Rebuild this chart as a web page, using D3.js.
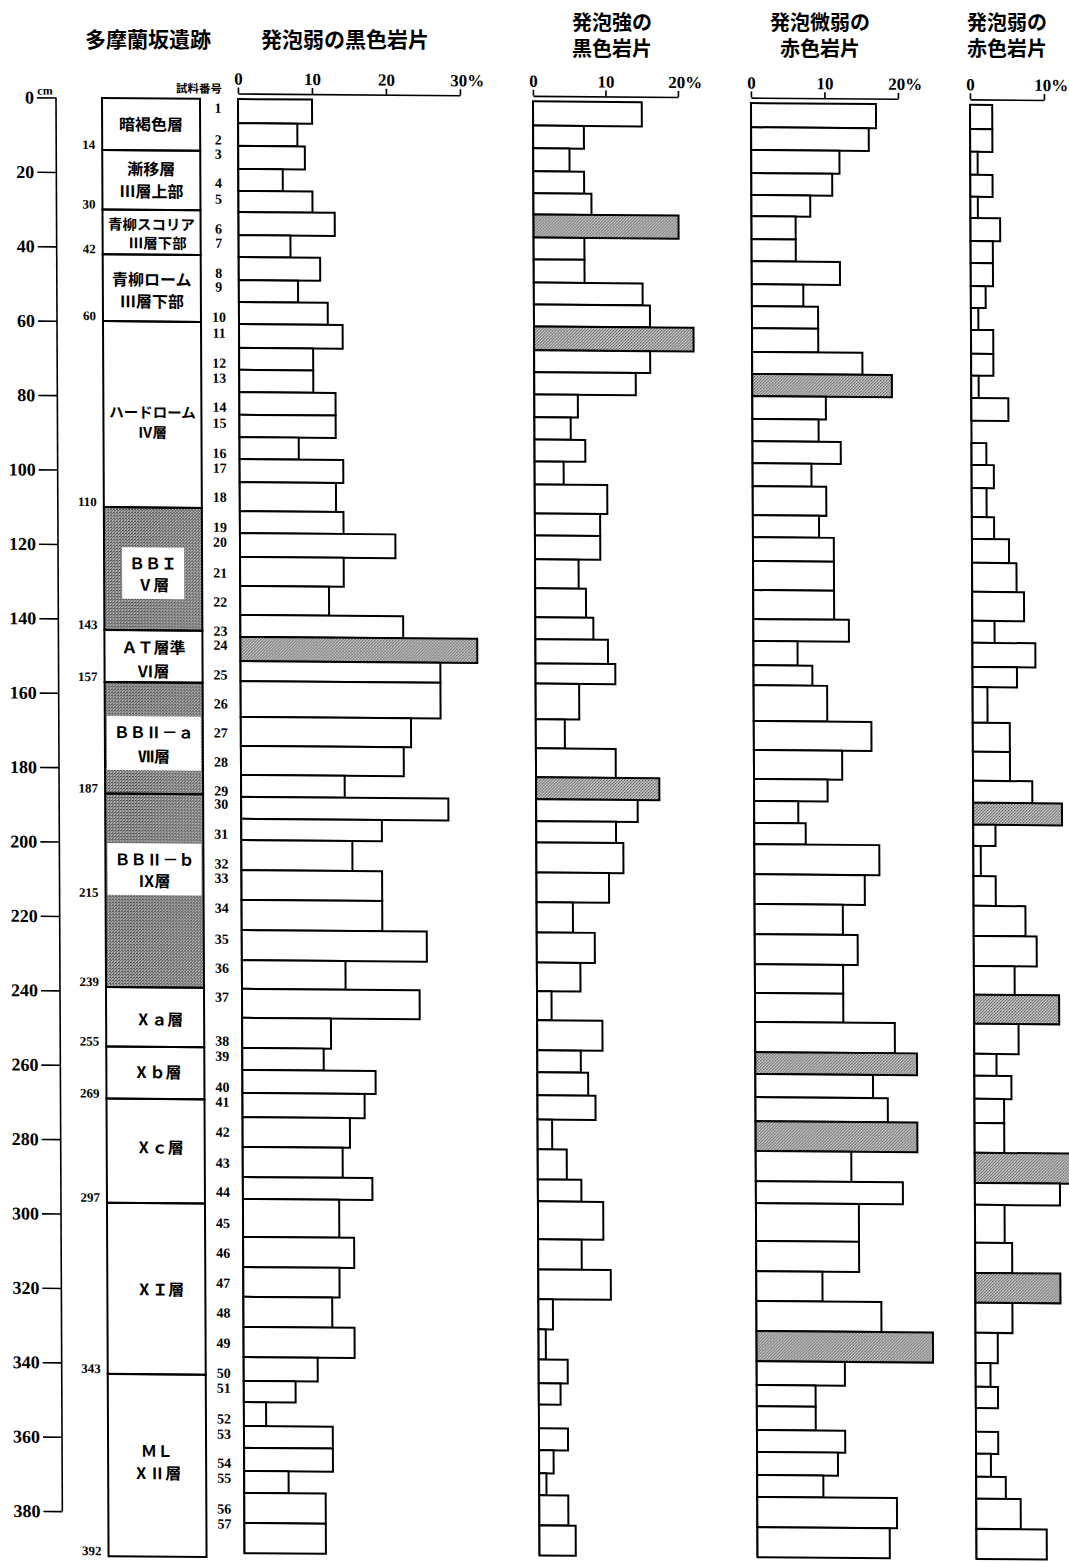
<!DOCTYPE html>
<html>
<head>
<meta charset="utf-8">
<script src="https://cdn.jsdelivr.net/npm/d3@7"></script>
<style>
  body { margin: 0; background: #fff; }
  svg { display: block; }
  .jp { font-family: "Noto Sans CJK JP", "Noto Sans", sans-serif; font-weight: 700; fill: #000; }
  .num { font-family: "Liberation Serif", "DejaVu Serif", serif; font-weight: 700; fill: #000; }
  .axis path, .axis line { stroke: #000; stroke-width: 1.6; }
  .axis text { font-family: "Liberation Serif", "DejaVu Serif", serif; font-weight: 700; font-size: 17px; fill: #000; }
  .depth text { font-size: 18px; }
</style>
</head>
<body>
<script>
// ---- data -------------------------------------------------------------
var sampleNo = [1, 2, 3, 4, 5, 6, 7, 8, 9, 10, 11, 12, 13, 14, 15, 16, 17, 18, 19, 20,
  21, 22, 23, 24, 25, 26, 27, 28, 29, 30, 31, 32, 33, 34, 35, 36, 37, 38, 39, 40,
  41, 42, 43, 44, 45, 46, 47, 48, 49, 50, 51, 52, 53, 54, 55, 56, 57];

// depth (cm) where each sample's number is written
var sampleDepth = [2.4, 11, 14.8, 22.6, 26.9, 34.9, 38.7, 46.8, 50.5, 58.6,
  62.9, 71, 75, 82.8, 87.1, 95.2, 99.2, 107, 115.1, 119.1,
  127.4, 135.2, 143, 146.8, 154.8, 162.6, 170.4, 178.2, 186, 189.5,
  197.6, 205.6, 209.4, 217.5, 225.8, 233.6, 241.4, 253.2, 257.3, 265.6,
  269.6, 277.7, 286, 293.8, 302.2, 310.2, 318.3, 326.3, 334.4, 342.5,
  346.5, 354.8, 358.9, 366.7, 370.7, 379, 383];

// depth (cm) of the bar edges: bar i runs from barEdges[i] to barEdges[i+1]
var barEdges = [0, 6.5, 12.6, 18.8, 24.7, 30.4, 36.6, 42.5, 48.7, 54.6,
  60.5, 66.9, 72.8, 78.8, 84.9, 90.9, 96.8, 103, 110.8, 116.7,
  123.1, 130.9, 138.7, 144.6, 151.1, 156.5, 166.1, 173.9, 181.7, 187.6,
  193.5, 199.2, 207.3, 215.3, 223.4, 231.5, 239.2, 247, 255.1, 261,
  267.2, 273.7, 281.7, 289.8, 295.7, 305.9, 314, 322, 330.1, 338.2,
  344.6, 350.3, 356.7, 362.6, 368.8, 374.7, 382.8, 390.9];

// percentages
var weakBlack = [10, 8, 9, 6, 10, 13, 7, 11, 8, 12,
  14, 10, 10, 13, 13, 8, 14, 13, 14, 21,
  14, 12, 22, 32, 27, 27, 23, 22, 14, 28,
  19, 15, 19, 19, 25, 14, 24, 12, 11, 18,
  16.5, 14.5, 13.5, 17.5, 13, 15, 13, 12, 15, 10,
  7, 3, 12, 12, 6, 11, 11];
var strongBlack = [15, 7, 5, 7, 8, 20, 7, 7, 15, 16,
  22, 16, 14, 6, 5, 7, 4, 10, 9, 9,
  6, 7, 8, 10, 11, 6, 4, 11, 17, 14,
  11, 12, 10, 5, 8, 6, 2, 9, 6, 7,
  8, 2, 4, 6, 9, 6, 10, 2, 1, 4,
  3, 0, 4, 2, 1, 4, 5];
var faintRed = [17, 16, 12, 11, 8, 6, 6, 12, 7, 9,
  9, 15, 19, 10, 9, 12, 8, 10, 9, 11,
  11, 11, 13, 6, 8, 10, 16, 12, 10, 6,
  7, 17, 15, 12, 14, 12, 12, 19, 22, 16,
  18, 22, 13, 20, 14, 14, 9, 17, 24, 12,
  8, 8, 12, 11, 9, 19, 18];
var weakRed = [3, 3, 1, 3, 1, 4, 3, 3, 2, 1,
  3, 3, 1, 5, 0, 2, 3, 2, 3, 5,
  6, 7, 3, 8.5, 6, 2, 5, 5, 8, 12,
  3, 1, 3, 7, 8.5, 5.5, 11.5, 6, 3, 5,
  4, 4, 13, 11.5, 4, 5, 11.5, 5, 3, 2,
  3, 0, 3, 2, 4, 6, 9.5];

// samples drawn with the screen tone
var shadedWeakBlack = [24];
var shadedStrongBlack = [6, 11, 29];
var shadedFaintRed = [13, 39, 42, 49];
var shadedWeakRed = [30, 37, 43, 47];

var panelTitles = [["発泡弱の黒色岩片"], ["発泡強の", "黒色岩片"], ["発泡微弱の", "赤色岩片"], ["発泡弱の", "赤色岩片"]];
var panelMax = [30, 20, 20, 10];
var panelTicks = [[0, 10, 20, 30], [0, 10, 20], [0, 10, 20], [0, 10]];

var depthTicks = [0, 20, 40, 60, 80, 100, 120, 140, 160, 180, 200, 220, 240, 260, 280, 300, 320, 340, 360, 380];

var layerBounds = [0, 14, 30, 42, 60, 110, 143, 157, 187, 239, 255, 269, 297, 343, 392];
var depthLabels = [14, 30, 42, 60, 110, 143, 157, 187, 215, 239, 255, 269, 297, 343, 392];
var shadedLayers = [[110, 143], [157, 239]];
var layerNames = [["暗褐色層"], ["漸移層", "Ⅲ層上部"], ["青柳スコリア", "Ⅲ層下部"], ["青柳ローム", "Ⅲ層下部"],
  ["ハードローム", "Ⅳ層"], ["ＢＢＩ", "Ⅴ層"], ["ＡＴ層準", "Ⅵ層"], ["ＢＢⅡ－ａ", "Ⅶ層"], ["ＢＢⅡ－ｂ", "Ⅸ層"],
  ["Ⅹａ層"], ["Ⅹｂ層"], ["Ⅹｃ層"], ["ⅩＩ層"], ["ＭＬ", "ⅩⅡ層"]];
var boxedLayers = [5, 7, 8];

// ---- layout -------------------------------------------------------------
var layerLabelDepth = [[7], [19, 25], [33.9, 38.9], [48.7, 54.6], [84.4, 89.8], [125, 130.8], [147.6, 154],
  [170.4, 176.9], [204.6, 210.4], [247.6], [261.8], [282], [320.2], [363.6, 369.6]];
var layerLabelShift = [[0], [0, 0], [0, 6], [0, 0], [0, 0], [0, 0], [0, 0], [0, 0], [0, 0], [4], [2], [4], [4], [0, 0]];
var panelRange = [[238, 460], [533, 678], [751, 898], [970, 1044]];
var titleX = [345, 612, 820, 1007];
var colX0 = 102, colX1 = 200, axisX = 56, numX = 218, axisTopY = 93.5;

var svg = d3.select("body").append("svg")
    .attr("width", 1069)
    .attr("height", 1562);
svg.append("rect").attr("width", 1069).attr("height", 1562).attr("fill", "#fff");

// screen tones
var defs = svg.append("defs");
function tone(id, bg, ink, cells) {
  var p = defs.append("pattern").attr("id", id)
      .attr("width", 3).attr("height", 3)
      .attr("patternUnits", "userSpaceOnUse");
  p.append("rect").attr("width", 3).attr("height", 3).attr("fill", bg);
  cells.forEach(function(c) {
    p.append("rect").attr("x", c[0]).attr("y", c[1]).attr("width", 1).attr("height", 1).attr("fill", ink);
  });
}
tone("toneBar", "#cfcfcf", "#444", [[0, 0], [2, 1], [1, 2]]);
tone("toneCol", "#c0c0c0", "#383838", [[0, 0], [2, 1], [1, 2], [1, 0]]);

var y = d3.scaleLinear().domain([0, 392]).range([99, 99 + 392 * 3.72]);

// the scan is slightly skewed
var g = svg.append("g")
    .attr("transform", "translate(238,100) matrix(1,0.008,0.0045,1,0,0) translate(-238,-100)");

// titles
svg.append("text").attr("class", "jp").attr("font-size", 21)
    .attr("x", 148).attr("y", 47).attr("text-anchor", "middle").text("多摩蘭坂遺跡");
panelTitles.forEach(function(lines, i) {
  var t = svg.append("text").attr("class", "jp")
      .attr("font-size", lines.length === 1 ? 21 : 20)
      .attr("text-anchor", "middle");
  lines.forEach(function(s, k) {
    t.append("tspan").attr("x", titleX[i])
        .attr("y", lines.length === 1 ? 47 : 30 + k * 26)
        .text(s);
  });
});

// depth axis
var gDepth = g.append("g")
    .attr("class", "axis depth")
    .attr("transform", "translate(" + axisX + ",0)")
    .call(d3.axisLeft(y).tickValues(depthTicks).tickSize(19).tickSizeOuter(0));
gDepth.select(".domain").remove();
gDepth.append("line")
    .attr("y1", y(0)).attr("y2", y(d3.max(depthTicks)))
    .attr("stroke", "#000").attr("stroke-width", 2);
gDepth.selectAll(".tick line").attr("stroke-width", 2);
g.append("text").attr("class", "num").attr("font-size", 12)
    .attr("x", axisX - 11).attr("y", y(0) - 3).attr("text-anchor", "middle").text("cm");

// stratigraphic column
shadedLayers.forEach(function(r) {
  g.append("rect")
      .attr("x", colX0).attr("width", colX1 - colX0)
      .attr("y", y(r[0])).attr("height", y(r[1]) - y(r[0]))
      .attr("fill", "url(#toneCol)");
});
layerBounds.slice(0, -1).forEach(function(top, i) {
  g.append("rect")
      .attr("x", colX0).attr("width", colX1 - colX0)
      .attr("y", y(top)).attr("height", y(layerBounds[i + 1]) - y(top))
      .attr("fill", "none").attr("stroke", "#000").attr("stroke-width", 2);
});
layerNames.forEach(function(lines, i) {
  var long = d3.max(lines, function(s) { return s.length; }) >= 6;
  var t = g.append("text").attr("class", "jp")
      .attr("font-size", long ? 14.5 : 16)
      .attr("text-anchor", "middle");
  lines.forEach(function(s, k) {
    t.append("tspan").attr("x", (colX0 + colX1) / 2 + layerLabelShift[i][k])
        .attr("y", y(layerLabelDepth[i][k])).attr("dy", "0.38em").text(s);
  });
  if (boxedLayers.indexOf(i) >= 0) {
    var b = t.node().getBBox();
    var x0 = Math.max(colX0 + 2, b.x - 7), x1 = Math.min(colX1 - 2, b.x + b.width + 7);
    g.insert("rect", function() { return t.node(); })
        .attr("x", x0).attr("width", x1 - x0)
        .attr("y", b.y - 3).attr("height", b.height + 6)
        .attr("fill", "#fff");
  }
});
g.selectAll("text.bound")
  .data(depthLabels)
  .enter().append("text")
    .attr("class", "num bound")
    .attr("font-size", 13)
    .attr("x", colX0 - 7)
    .attr("y", function(d) { return y(d) - 5; })
    .attr("dy", "0.32em")
    .attr("text-anchor", "end")
    .text(function(d) { return d; });

// sample numbers
g.append("text").attr("class", "jp").attr("font-size", 11.5)
    .attr("x", 199).attr("y", 93).attr("text-anchor", "middle").text("試料番号");
g.selectAll("text.sample")
  .data(sampleNo)
  .enter().append("text")
    .attr("class", "num sample")
    .attr("font-size", 14)
    .attr("x", numX)
    .attr("y", function(d, i) { return y(sampleDepth[i]); })
    .attr("dy", "0.35em")
    .attr("text-anchor", "middle")
    .text(function(d) { return d; });

// bar panels
var series = [weakBlack, strongBlack, faintRed, weakRed];
var shaded = [shadedWeakBlack, shadedStrongBlack, shadedFaintRed, shadedWeakRed];

series.forEach(function(values, i) {
  var x = d3.scaleLinear().domain([0, panelMax[i]]).range(panelRange[i]);
  var gp = g.append("g");

  var ax = gp.append("g")
      .attr("class", "axis")
      .attr("transform", "translate(0," + axisTopY + ")")
      .call(d3.axisTop(x).tickValues(panelTicks[i]).tickSize(6).tickSizeOuter(0)
        .tickFormat(function(d) { return d === panelMax[i] ? d + "%" : d; }));
  ax.selectAll(".tick text")
      .filter(function(d) { return d === panelMax[i]; })
      .attr("dx", "0.4em");

  gp.append("line")
      .attr("x1", x(0)).attr("x2", x(0))
      .attr("y1", y(barEdges[0])).attr("y2", y(barEdges[barEdges.length - 1]))
      .attr("stroke", "#000").attr("stroke-width", 2);

  gp.selectAll("rect")
    .data(values.map(function(v, j) { return {v: v, j: j}; })
      .filter(function(d) { return d.v > 0; }))
    .enter().append("rect")
      .attr("x", x(0))
      .attr("y", function(d) { return y(barEdges[d.j]); })
      .attr("width", function(d) { return x(d.v) - x(0); })
      .attr("height", function(d) { return y(barEdges[d.j + 1]) - y(barEdges[d.j]); })
      .attr("fill", function(d) { return shaded[i].indexOf(sampleNo[d.j]) >= 0 ? "url(#toneBar)" : "#fff"; })
      .attr("stroke", "#000")
      .attr("stroke-width", 2);
});
</script>
</body>
</html>
